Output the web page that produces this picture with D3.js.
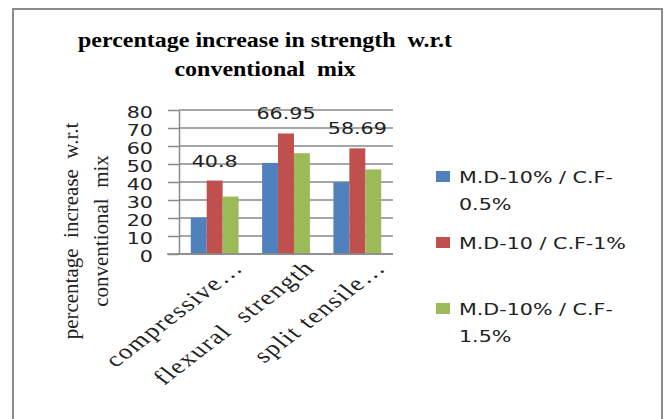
<!DOCTYPE html>
<html>
<head>
<meta charset="utf-8">
<script src="https://cdn.jsdelivr.net/npm/d3@7/dist/d3.min.js"></script>
<style>
  html, body { margin: 0; padding: 0; background: #fff; }
  svg { display: block; }
  svg text { white-space: pre; }
</style>
</head>
<body>
<svg id="chart" width="664" height="419"></svg>
<script>
// Percentage increase in strength relative to the conventional mix
const categories = ["compressive strength", "flexural strength", "split tensile strength"];
const categoryLabels = ["compressive…", "flexural  strength", "split tensile…"];
const seriesNames = ["M.D-10% / C.F-0.5%", "M.D-10 / C.F-1%", "M.D-10% / C.F-1.5%"];
const legendLines = [["M.D-10% / C.F-", "0.5%"], ["M.D-10 / C.F-1%"], ["M.D-10% / C.F-", "1.5%"]];
const md10cf05 = [20.2, 50.6, 39.9];
const md10cf1 = [40.8, 66.95, 58.69];
const md10cf15 = [31.9, 56.0, 47.0];
const yTicks = [0, 10, 20, 30, 40, 50, 60, 70, 80];
const labelledSeries = 1; // data labels are shown on the C.F-1% series

const seriesValues = [md10cf05, md10cf1, md10cf15];
const colors = ["#4F81BD", "#C0504D", "#9BBB59"];

const svg = d3.select("#chart");
const sansFont = "'DejaVu Sans', sans-serif";
const serifFont = "'Liberation Serif', 'Times New Roman', serif";
const sansStretch = 1.29;

// outer chart frame
svg.append("rect")
  .attr("x", 13).attr("y", 9)
  .attr("width", 649).attr("height", 430)
  .attr("fill", "#fff")
  .attr("stroke", "#8c8c8c")
  .attr("stroke-width", 2);

// title
const titleLines = ["percentage increase in strength  w.r.t", "conventional  mix"];
svg.append("g").selectAll("text")
  .data(titleLines)
  .join("text")
  .attr("transform", (d, i) => `translate(265,${47 + i * 29}) scale(1.09,1)`)
  .attr("text-anchor", "middle")
  .attr("font-family", serifFont)
  .attr("font-weight", "bold")
  .attr("font-size", 22)
  .attr("fill", "#000")
  .text(d => d);

// scales
const plot = { left: 179, right: 393, top: 110, bottom: 254 };
const x = d3.scaleBand()
  .domain(categories)
  .range([plot.left, plot.right])
  .paddingInner(0.33)
  .paddingOuter(0.165);
const xs = d3.scaleBand()
  .domain(d3.range(seriesValues.length))
  .range([0, x.bandwidth()]);
const y = d3.scaleLinear().domain([0, 80]).range([plot.bottom, plot.top]);

// gridlines
svg.append("g").selectAll("line")
  .data(yTicks)
  .join("line")
  .attr("x1", plot.left).attr("x2", plot.right)
  .attr("y1", d => y(d)).attr("y2", d => y(d))
  .attr("stroke", "#8a8a8a")
  .attr("stroke-width", 1.5);

// y axis
const yAxis = svg.append("g")
  .attr("transform", `translate(${plot.left},0)`)
  .call(d3.axisLeft(y).tickValues(yTicks).tickSizeInner(11).tickSizeOuter(0).tickFormat(d3.format("d")));
yAxis.select(".domain").attr("stroke", "#8a8a8a").attr("stroke-width", 1.5);
yAxis.selectAll(".tick line").attr("stroke", "#8a8a8a").attr("stroke-width", 1.5);
yAxis.selectAll(".tick text")
  .attr("x", 0)
  .attr("dy", "0.45em")
  .attr("transform", `translate(-26,0) scale(${sansStretch},1)`)
  .attr("font-family", sansFont)
  .attr("font-size", 16)
  .attr("fill", "#222");

// bars
const groups = svg.append("g").selectAll("g")
  .data(categories)
  .join("g")
  .attr("transform", d => `translate(${x(d)},0)`);
groups.selectAll("rect")
  .data((d, ci) => seriesValues.map((vals, si) => ({ si, v: vals[ci] })))
  .join("rect")
  .attr("x", d => xs(d.si))
  .attr("width", xs.bandwidth())
  .attr("y", d => y(d.v))
  .attr("height", d => y(0) - y(d.v))
  .attr("fill", d => colors[d.si]);

// category axis line
svg.append("line")
  .attr("x1", 167).attr("x2", plot.right)
  .attr("y1", plot.bottom).attr("y2", plot.bottom)
  .attr("stroke", "#8a8a8a").attr("stroke-width", 1.5);

// data labels
svg.append("g").selectAll("text")
  .data(categories)
  .join("text")
  .attr("transform", (d, i) => {
    const cx = x(d) + xs(labelledSeries) + xs.bandwidth() / 2;
    return `translate(${cx},${y(seriesValues[labelledSeries][i]) - 14}) scale(${sansStretch},1)`;
  })
  .attr("text-anchor", "middle")
  .attr("font-family", sansFont)
  .attr("font-size", 16)
  .attr("fill", "#222")
  .text((d, i) => String(seriesValues[labelledSeries][i]));

// category labels, slanted
svg.append("g").selectAll("text")
  .data(categories)
  .join("text")
  .attr("transform", (d) => `translate(${x(d) + x.bandwidth() / 2 + 30},${plot.bottom + 15}) scale(1.3,1) rotate(-45)`)
  .attr("text-anchor", "end")
  .attr("font-family", serifFont)
  .attr("font-size", 21)
  .attr("letter-spacing", 1.2)
  .attr("fill", "#222")
  .text((d, i) => categoryLabels[i]);

// y axis title
const yTitle = ["percentage  increase  w.r.t", "conventional  mix"];
svg.append("g").selectAll("text")
  .data(yTitle)
  .join("text")
  .attr("transform", (d, i) => `translate(${78 + i * 30},231) rotate(-90)`)
  .attr("text-anchor", "middle")
  .attr("font-family", serifFont)
  .attr("font-size", 21)
  .attr("fill", "#222")
  .text(d => d);

// legend
const legendY = [171, 237, 303];
const legend = svg.append("g").selectAll("g")
  .data(seriesNames)
  .join("g")
  .attr("transform", (d, i) => `translate(436,${legendY[i]})`);
legend.append("rect")
  .attr("width", 14).attr("height", 11)
  .attr("fill", (d, i) => colors[i]);
legend.each(function (d, i) {
  d3.select(this).selectAll("text")
    .data(legendLines[i])
    .join("text")
    .attr("transform", (t, j) => `translate(23,${12 + j * 27}) scale(${sansStretch},1)`)
    .attr("font-family", sansFont)
    .attr("font-size", 16)
    .attr("fill", "#222")
    .text(t => t);
});
</script>
</body>
</html>
